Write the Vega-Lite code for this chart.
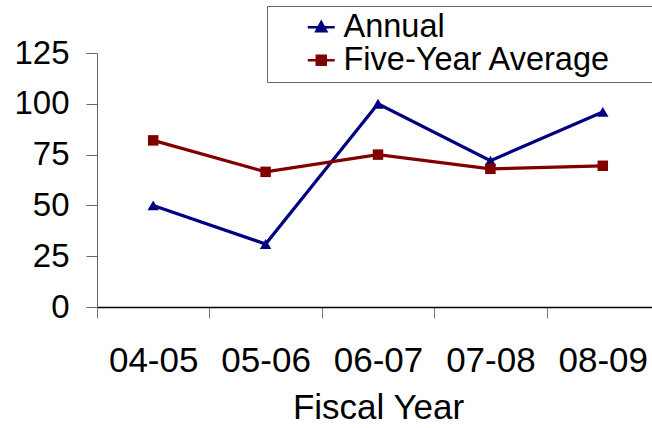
{
  "$schema": "https://vega.github.io/schema/vega-lite/v6.json",
  "width": 555,
  "height": 254,
  "autosize": {"type": "none"},
  "padding": {"left": 97, "top": 53, "right": 0, "bottom": 121},
  "background": "white",
  "config": {
    "font": "Liberation Sans",
    "view": {"stroke": null},
    "axis": {"grid": false, "labelColor": "black", "titleColor": "black", "labelFont": "Liberation Sans", "titleFont": "Liberation Sans"}
  },
  "data": {
    "values": [
      {"year": "04-05", "series": "Annual", "value": 50},
      {"year": "05-06", "series": "Annual", "value": 31},
      {"year": "06-07", "series": "Annual", "value": 100},
      {"year": "07-08", "series": "Annual", "value": 72},
      {"year": "08-09", "series": "Annual", "value": 96},
      {"year": "04-05", "series": "Five-Year Average", "value": 82},
      {"year": "05-06", "series": "Five-Year Average", "value": 66.5},
      {"year": "06-07", "series": "Five-Year Average", "value": 75},
      {"year": "07-08", "series": "Five-Year Average", "value": 68},
      {"year": "08-09", "series": "Five-Year Average", "value": 69.5}
    ]
  },
  "encoding": {
    "x": {
      "field": "year", "type": "nominal", "sort": null,
      "scale": {"range": [0, 562], "paddingInner": 0, "paddingOuter": 0},
      "axis": {
        "title": "Fiscal Year", "labelAngle": 0, "labelFontSize": 35, "titleFontSize": 35, "titleFontWeight": "normal",
        "tickBand": "extent", "tickSize": 11, "tickColor": "#777", "domainColor": "black", "domainWidth": 1.5,
        "labelPadding": 25, "titlePadding": 12
      }
    },
    "y": {
      "field": "value", "type": "quantitative",
      "scale": {"domain": [0, 125], "nice": false},
      "axis": {
        "title": null, "values": [0, 25, 50, 75, 100, 125], "labelFontSize": 33, "tickSize": 11,
        "tickColor": "#666", "domainColor": "#666", "labelPadding": 17
      }
    }
  },
  "layer": [
    {
      "mark": {"type": "line", "strokeWidth": 3.2},
      "encoding": {
        "color": {
          "field": "series", "type": "nominal",
          "scale": {"domain": ["Annual", "Five-Year Average"], "range": ["#000080", "#800000"]},
          "legend": {
            "title": "\u00a0", "titleOrient": "right", "titlePadding": 45, "titleFontSize": 10,
            "orient": "none", "legendX": 170, "legendY": -47,
            "strokeColor": "#666", "padding": 5, "fillColor": "white",
            "labelFontSize": 32.5, "labelFont": "Liberation Sans", "labelColor": "black", "labelLimit": 2000,
            "symbolType": "M-1,0H1M0,-0.38L0.37,0.3H-0.37Z",
            "symbolSize": 729, "symbolOffset": 33, "labelOffset": 6, "rowPadding": -9,
            "encode": {
              "symbols": {
                "update": {
                  "shape": {"signal": "datum.value === 'Annual' ? 'M-1,0H1M0,-0.38L0.37,0.3H-0.37Z' : 'M-1,0H1M-0.33,-0.33H0.33V0.33H-0.33Z'"},
                  "fill": {"signal": "datum.value === 'Annual' ? '#000080' : '#800000'"},
                  "stroke": {"signal": "datum.value === 'Annual' ? '#000080' : '#800000'"},
                  "strokeWidth": {"value": 2.5},
                  "opacity": {"value": 1}
                }
              }
            }
          }
        }
      }
    },
    {
      "transform": [{"filter": "datum.series === 'Annual'"}],
      "mark": {"type": "point", "filled": true, "size": 130, "opacity": 1, "shape": "triangle-up", "color": "#000080"}
    },
    {
      "transform": [{"filter": "datum.series === 'Five-Year Average'"}],
      "mark": {"type": "point", "filled": true, "size": 110, "opacity": 1, "shape": "square", "color": "#800000"}
    }
  ]
}
